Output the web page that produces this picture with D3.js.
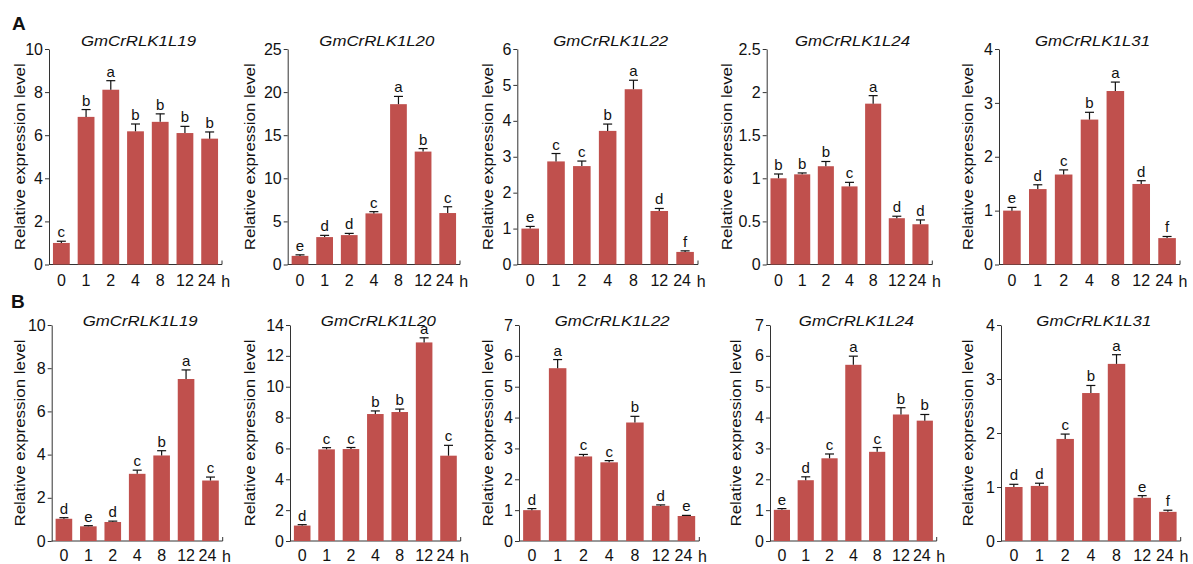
<!DOCTYPE html>
<html>
<head>
<meta charset="utf-8">
<script src="https://cdnjs.cloudflare.com/ajax/libs/d3/7.8.5/d3.min.js"></script>
<style>
  body { margin: 0; background: #fff; }
  svg text { font-family: "Liberation Sans", Arial, sans-serif; fill: #111; }
</style>
</head>
<body>
<svg width="1193" height="564"></svg>
<script>
// ---- data ----
var times = ["0", "1", "2", "4", "8", "12", "24"];
var genes = ["GmCrRLK1L19", "GmCrRLK1L20", "GmCrRLK1L22", "GmCrRLK1L24", "GmCrRLK1L31"];

// row A
var meansA = [
  [1.0, 6.85, 8.11, 6.18, 6.62, 6.1, 5.84],
  [1.0, 3.18, 3.41, 5.93, 18.6, 13.1, 5.97],
  [1.0, 2.87, 2.74, 3.72, 4.88, 1.49, 0.35],
  [1.0, 1.046, 1.14, 0.906, 1.866, 0.537, 0.467],
  [1.0, 1.4, 1.67, 2.69, 3.22, 1.495, 0.49]
];
var errsA = [
  [0.08, 0.34, 0.42, 0.34, 0.37, 0.31, 0.31],
  [0.12, 0.2, 0.2, 0.2, 0.9, 0.35, 0.73],
  [0.06, 0.22, 0.14, 0.19, 0.25, 0.07, 0.03],
  [0.05, 0.016, 0.055, 0.047, 0.093, 0.023, 0.05],
  [0.06, 0.08, 0.086, 0.135, 0.166, 0.06, 0.03]
];
var lettersA = [
  ["c", "b", "a", "b", "b", "b", "b"],
  ["e", "d", "d", "c", "a", "b", "c"],
  ["e", "c", "c", "b", "a", "d", "f"],
  ["b", "b", "b", "c", "a", "d", "d"],
  ["e", "d", "c", "b", "a", "d", "f"]
];
var yMaxA = [10, 25, 6, 2.5, 4];
var yStepA = [2, 5, 1, 0.5, 1];

// row B
var meansB = [
  [1.03, 0.68, 0.88, 3.11, 3.96, 7.5, 2.8],
  [1.0, 5.94, 5.96, 8.23, 8.36, 12.87, 5.53],
  [1.0, 5.6, 2.74, 2.55, 3.84, 1.14, 0.81],
  [1.01, 1.97, 2.68, 5.71, 2.89, 4.1, 3.9],
  [1.0, 1.02, 1.89, 2.74, 3.28, 0.8, 0.54]
];
var errsB = [
  [0.05, 0.03, 0.04, 0.17, 0.22, 0.42, 0.16],
  [0.06, 0.11, 0.1, 0.2, 0.19, 0.3, 0.67],
  [0.05, 0.28, 0.065, 0.055, 0.2, 0.03, 0.02],
  [0.04, 0.11, 0.14, 0.28, 0.14, 0.22, 0.2],
  [0.05, 0.05, 0.09, 0.14, 0.17, 0.04, 0.03]
];
var lettersB = [
  ["d", "e", "d", "c", "b", "a", "c"],
  ["d", "c", "c", "b", "b", "a", "c"],
  ["d", "a", "c", "c", "b", "d", "e"],
  ["e", "d", "c", "a", "c", "b", "b"],
  ["d", "d", "c", "b", "a", "e", "f"]
];
var yMaxB = [10, 14, 7, 7, 4];
var yStepB = [2, 2, 1, 1, 1];

// ---- layout ----
var rows = [
  {
    tag: "A", tagX: 12, tagY: 30, top: 49, zero: 264.5, titleY: 46, labelY: 22,
    x0: [49, 287.7, 517.3, 766.7, 999],
    x1: [222, 460, 698, 932.3, 1180],
    labelX: [19.5, 249, 487.5, 726, 967.5],
    means: meansA, errs: errsA, letters: lettersA, yMax: yMaxA, yStep: yStepA
  },
  {
    tag: "B", tagX: 11, tagY: 308, top: 325, zero: 541, titleY: 326, labelY: 20.5,
    x0: [51.7, 290, 519, 770, 1001],
    x1: [222.7, 460.7, 699.3, 936.7, 1180.7],
    labelX: [19.5, 249, 487.5, 735.5, 967.5],
    means: meansB, errs: errsB, letters: lettersB, yMax: yMaxB, yStep: yStepB
  }
];

var barColor = "#C0504D";
var axisColor = "#333";
var tickFont = 16;

var svg = d3.select("svg");
svg.append("rect").attr("width", 1193).attr("height", 564).attr("fill", "#fff");

function drawPanel(row, i) {
  var g = svg.append("g");

  var x = d3.scaleBand()
    .domain(times)
    .range([row.x0[i], row.x1[i]])
    .paddingInner(0.32)
    .paddingOuter(0.16);

  var y = d3.scaleLinear()
    .domain([0, row.yMax[i]])
    .range([row.zero, row.top]);

  var ticks = d3.range(0, row.yMax[i] + row.yStep[i] / 2, row.yStep[i]);

  var yAxis = g.append("g")
    .attr("transform", "translate(" + row.x0[i] + ",0)")
    .call(d3.axisLeft(y)
      .tickValues(ticks)
      .tickSize(4)
      .tickSizeOuter(0)
      .tickPadding(2)
      .tickFormat(function(d) { return String(+d.toFixed(2)); }));
  yAxis.selectAll("path, line").attr("stroke", axisColor);
  yAxis.selectAll("text")
    .attr("font-size", tickFont)
    .attr("fill", "#111")
    .attr("font-family", null);

  // x axis: baseline with a small cap at the right end
  var xr = x.range();
  g.append("path")
    .attr("d", "M" + xr[0] + "," + row.zero + "H" + xr[1] + "V" + (row.zero - 4))
    .attr("fill", "none")
    .attr("stroke", axisColor);

  var xAxis = g.append("g")
    .attr("transform", "translate(0," + row.zero + ")")
    .call(d3.axisBottom(x).tickSize(0).tickPadding(row.labelY - 11.4));
  xAxis.select(".domain").remove();
  xAxis.selectAll("text")
    .attr("font-size", tickFont)
    .attr("fill", "#111")
    .attr("font-family", null);
  xAxis.selectAll(".tick").filter(function(d) { return d === "24"; })
    .select("text").attr("x", -3);

  var last = x("24") + x.bandwidth() / 2;
  g.append("text")
    .attr("x", last + 16)
    .attr("y", row.zero + row.labelY)
    .attr("text-anchor", "middle")
    .attr("font-size", tickFont)
    .text("h");

  var bars = times.map(function(t, k) {
    return { t: t, m: row.means[i][k], e: row.errs[i][k], l: row.letters[i][k] };
  });

  g.selectAll("rect.bar")
    .data(bars)
    .enter()
    .append("rect")
    .attr("class", "bar")
    .attr("x", function(d) { return x(d.t); })
    .attr("y", function(d) { return y(d.m); })
    .attr("width", x.bandwidth())
    .attr("height", function(d) { return row.zero - y(d.m); })
    .attr("fill", barColor);

  var err = g.selectAll("g.err")
    .data(bars)
    .enter()
    .append("g")
    .attr("class", "err")
    .attr("stroke", "#111")
    .attr("stroke-width", 1.2);
  err.append("line")
    .attr("x1", function(d) { return x(d.t) + x.bandwidth() / 2; })
    .attr("x2", function(d) { return x(d.t) + x.bandwidth() / 2; })
    .attr("y1", function(d) { return y(d.m); })
    .attr("y2", function(d) { return y(d.m + d.e); });
  err.append("line")
    .attr("x1", function(d) { return x(d.t) + x.bandwidth() / 2 - 4.5; })
    .attr("x2", function(d) { return x(d.t) + x.bandwidth() / 2 + 4.5; })
    .attr("y1", function(d) { return y(d.m + d.e); })
    .attr("y2", function(d) { return y(d.m + d.e); });

  g.selectAll("text.sig")
    .data(bars)
    .enter()
    .append("text")
    .attr("class", "sig")
    .attr("x", function(d) { return x(d.t) + x.bandwidth() / 2; })
    .attr("y", function(d) { return y(d.m + d.e) - 4; })
    .attr("text-anchor", "middle")
    .attr("font-size", 15)
    .text(function(d) { return d.l; });

  // title
  g.append("text")
    .attr("x", (xr[0] + xr[1]) / 2 + 3)
    .attr("y", row.titleY)
    .attr("text-anchor", "middle")
    .attr("font-size", 15.5)
    .attr("font-style", "italic")
    .attr("textLength", 115)
    .attr("lengthAdjust", "spacingAndGlyphs")
    .text(genes[i]);

  // y label
  g.append("text")
    .attr("transform", "translate(" + row.labelX[i] + "," + (row.top + row.zero) / 2 + ") rotate(-90)")
    .attr("text-anchor", "middle")
    .attr("dominant-baseline", "central")
    .attr("font-size", 15)
    .attr("textLength", 187)
    .attr("lengthAdjust", "spacingAndGlyphs")
    .text("Relative expression level");
}

rows.forEach(function(row) {
  svg.append("text")
    .attr("x", row.tagX)
    .attr("y", row.tagY)
    .attr("font-size", 19)
    .attr("font-weight", "bold")
    .text(row.tag);
  genes.forEach(function(gene, i) {
    drawPanel(row, i);
  });
});
</script>
</body>
</html>
